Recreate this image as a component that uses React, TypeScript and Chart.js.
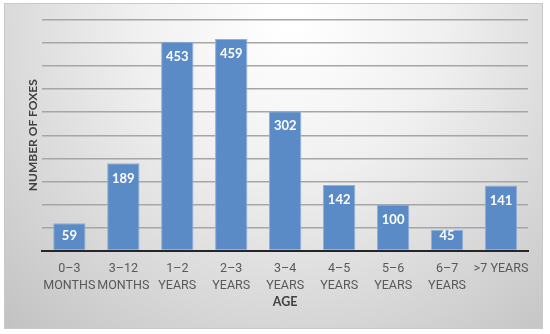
import React, { useEffect, useRef } from "react";
import { Chart, registerables } from "chart.js";

Chart.register(...registerables);

const categories: (string | string[])[] = [
  ["0–3", "MONTHS"],
  ["3–12", "MONTHS"],
  ["1–2", "YEARS"],
  ["2–3", "YEARS"],
  ["3–4", "YEARS"],
  ["4–5", "YEARS"],
  ["5–6", "YEARS"],
  ["6–7", "YEARS"],
  ">7 YEARS",
];
const foxes: number[] = [59, 189, 453, 459, 302, 142, 100, 45, 141];
const yTitle = "NUMBER OF FOXES";
const xTitle = "AGE";

const FONT = "Lato, 'Open Sans', sans-serif";
const TICKFONT = "Roboto, Lato, sans-serif";

const backgroundPlugin = {
  id: "bgBox",
  beforeDraw(chart: any) {
    const ctx = chart.ctx;
    const x0 = 4, y0 = 3, x1 = 543, y1 = 329;
    ctx.save();
    ctx.fillStyle = "#ffffff";
    ctx.fillRect(0, 0, chart.width, chart.height);
    const g = ctx.createRadialGradient(290, 20, 10, 290, 20, 420);
    g.addColorStop(0, "#ffffff");
    g.addColorStop(0.35, "#f0f0f0");
    g.addColorStop(1, "#c2c2c2");
    ctx.fillStyle = g;
    ctx.fillRect(x0, y0, x1 - x0, y1 - y0);
    ctx.strokeStyle = "#c8c8c8";
    ctx.lineWidth = 1;
    ctx.strokeRect(x0 + 0.5, y0 + 0.5, x1 - x0 - 1, y1 - y0 - 1);
    ctx.restore();
  },
};

const labelPlugin = {
  id: "barLabels",
  afterDatasetsDraw(chart: any) {
    const ctx = chart.ctx;
    const meta = chart.getDatasetMeta(0);
    const ds = chart.data.datasets[0];
    ctx.save();
    ctx.fillStyle = "#ffffff";
    ctx.font = `bold 13px ${FONT}`;
    ctx.textAlign = "center";
    ctx.textBaseline = "middle";
    meta.data.forEach((bar: any, i: number) => {
      const y = Math.min(bar.y + 15, bar.base - 14);
      ctx.fillText(String(ds.data[i]), bar.x, y);
    });
    ctx.restore();
  },
};

export default function App() {
  const ref = useRef<HTMLCanvasElement | null>(null);
  useEffect(() => {
    document.body.style.margin = "0";
    if (!ref.current) return;
    const chart = new Chart(ref.current, {
      type: "bar",
      data: {
        labels: categories,
        datasets: [
          {
            data: foxes,
            backgroundColor: "#5b8bc6",
            borderColor: "#8fb0dc",
            borderWidth: 1,
            borderSkipped: "bottom",
            categoryPercentage: 1,
            barPercentage: 0.6,
          },
        ],
      },
      options: {
        animation: false,
        responsive: false,
        maintainAspectRatio: false,
        layout: { padding: { top: 20, left: 20, right: 22, bottom: 25 } },
        plugins: {
          legend: { display: false },
          tooltip: { enabled: false },
        },
        scales: {
          x: {
            grid: { display: false, drawTicks: false },
            border: { display: true, color: "#262626", width: 2 },
            ticks: {
              color: "#595959",
              font: { family: TICKFONT, size: 12.5, lineHeight: 1.36 },
              padding: 9.5,
              maxRotation: 0,
              autoSkip: false,
            },
            title: {
              display: true,
              text: xTitle,
              color: "#404040",
              font: { family: FONT, size: 12.5, weight: "bold", lineHeight: 1.2 },
              padding: { top: -9.5, bottom: 0 },
            },
          },
          y: {
            min: 0,
            max: 500,
            ticks: { display: false, stepSize: 50 },
            grid: { color: "#a6a6a6", lineWidth: 1.5, drawTicks: false },
            border: { display: false },
            title: {
              display: true,
              text: yTitle,
              color: "#404040",
              font: { family: FONT, size: 12, weight: "bold", lineHeight: 1.2 },
              padding: { top: 6, bottom: 2 },
            },
          },
        },
      },
      plugins: [backgroundPlugin, labelPlugin],
    });
    return () => chart.destroy();
  }, []);
  return <canvas ref={ref} width={550} height={334} style={{ display: "block" }} />;
}
